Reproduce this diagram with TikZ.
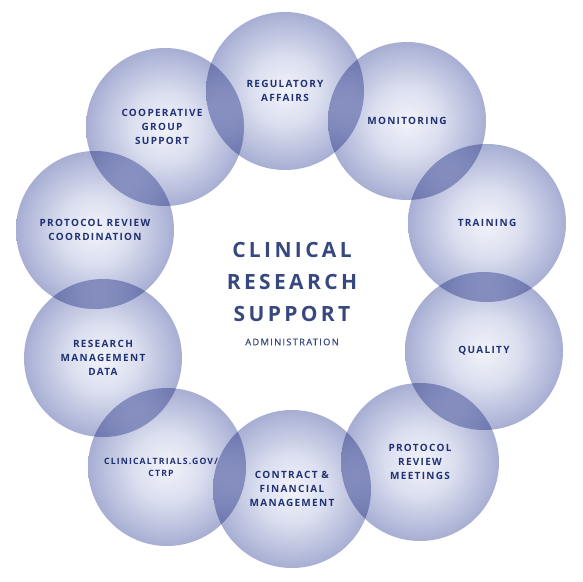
\documentclass[tikz,border=0pt]{standalone}
\usepackage{fontspec}
\setmainfont{Open Sans}
\newfontfamily\circfont[LetterSpace=13]{Open Sans}
\newfontfamily\titlefont[LetterSpace=16]{Open Sans}
\newfontfamily\adminfont[LetterSpace=14,FakeBold=0.6]{Open Sans}
\definecolor{bubin}{HTML}{F2F3F9}
\definecolor{bubmid}{HTML}{DADEEF}
\definecolor{bubout}{HTML}{A7AED3}
\definecolor{labelblue}{HTML}{26387A}
\definecolor{titleblue}{HTML}{37487F}
\pgfdeclareradialshading{bubble}{\pgfpointorigin}{color(0bp)=(bubin); color(11bp)=(bubmid); color(25bp)=(bubout); color(50bp)=(bubout)}
\tikzset{
  area/.style={circle, minimum size=158pt, inner sep=0pt, shading=bubble,
    blend mode=multiply, align=center, text=labelblue,
    font=\circfont\bfseries\fontsize{10}{14}\selectfont},
  smallarea/.style={area, font=\circfont\bfseries\fontsize{8.7}{12}\selectfont}
}

\begin{document}
\begin{tikzpicture}[x=1pt,y=-1pt]
        \useasboundingbox (0,0) rectangle (583,581);
        % ring of areas
        \node[area] (reg) at (285,91) {REGULATORY\\AFFAIRS};
        \node[area] (mon) at (407,121) {MONITORING};
        \node[area] (train) at (487,223) {TRAINING};
        \node[area] (qual) at (484,351) {QUALITY};
        \node[area] (prm) at (420,462) {PROTOCOL\\REVIEW\\MEETINGS};
        \node[area] (contract) at (292,489) {CONTRACT \&\\FINANCIAL\\MANAGEMENT};
        \node[smallarea] (ctgov) at (167,467) {\hspace*{-12pt}CLINICALTRIALS.GOV/\\\hspace*{-12pt}CTRP};
        \node[area] (rmd) at (103,358) {RESEARCH\\MANAGEMENT\\DATA};
        \node[area] (prc) at (95,230) {PROTOCOL REVIEW\\COORDINATION};
        \node[area] (coop) at (165,127) {\hspace*{-6pt}COOPERATIVE\\\hspace*{-6pt}GROUP\\\hspace*{-6pt}SUPPORT};
        % centre
        \node[align=center, text=titleblue, font=\titlefont\bfseries\fontsize{21}{32}\selectfont] (title) at (292,282) {CLINICAL\\RESEARCH\\SUPPORT};
        \node[text=titleblue, font=\adminfont\fontsize{9.3}{11}\selectfont] (admin) at (292,342) {ADMINISTRATION};
    \end{tikzpicture}
\end{document}
